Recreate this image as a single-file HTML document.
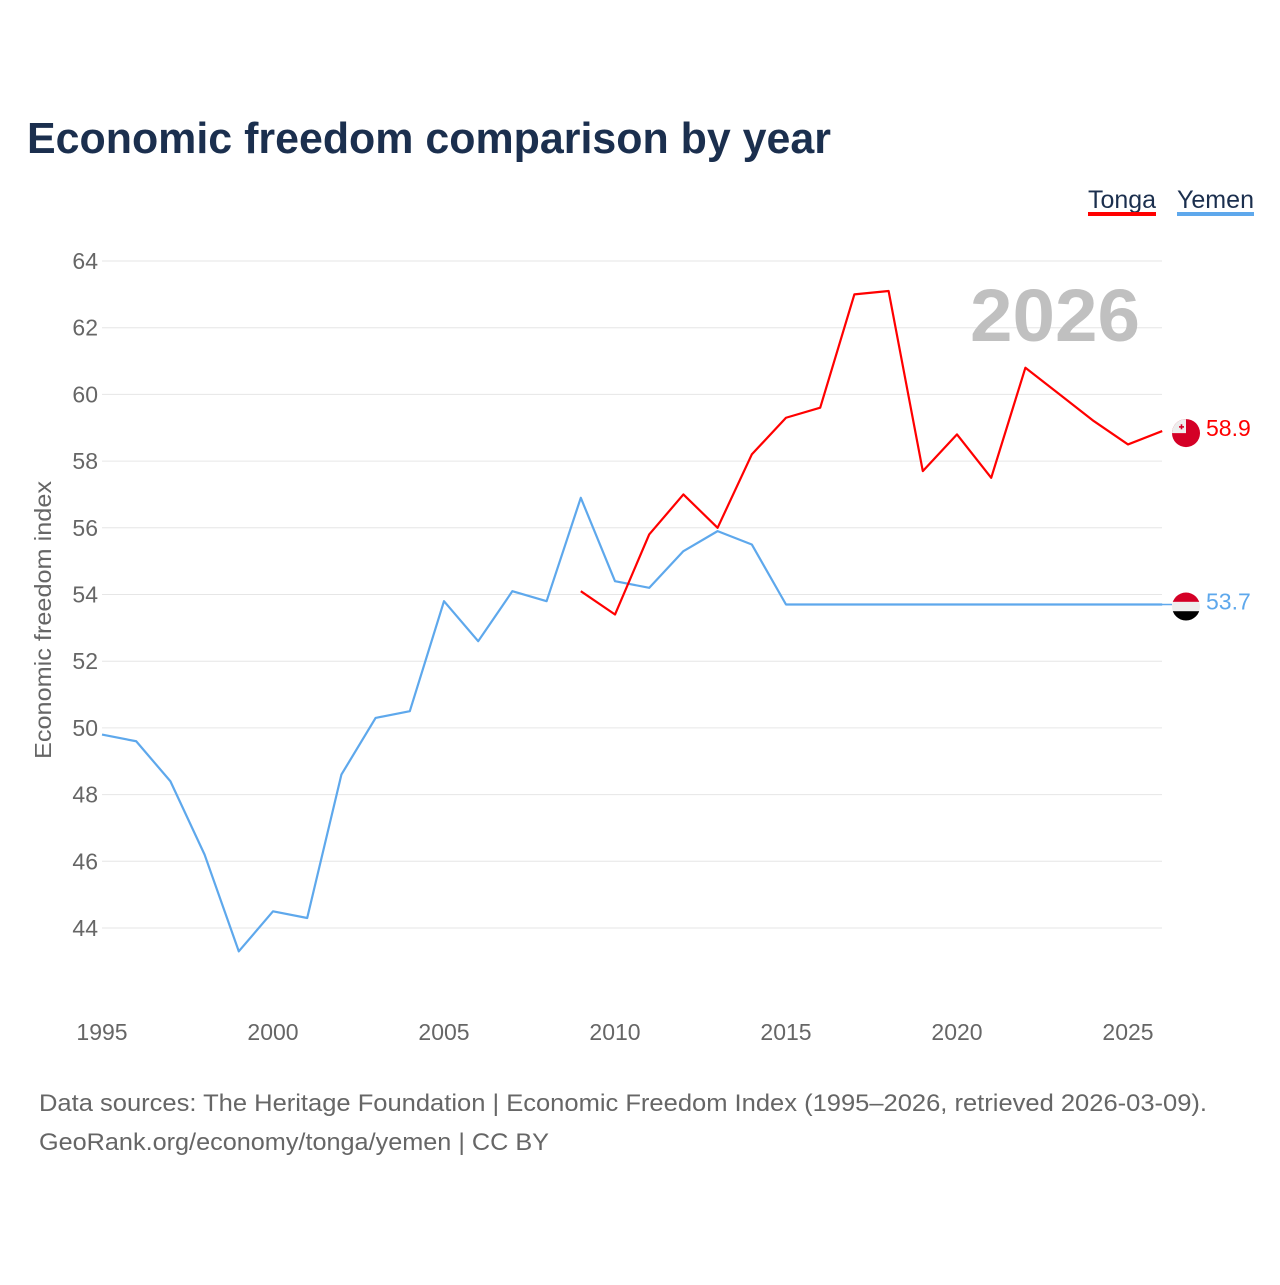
<!DOCTYPE html>
<html><head><meta charset="utf-8"><style>
body{margin:0;background:#fff;font-family:"Liberation Sans",sans-serif;}
</style></head><body>
<svg id="chart" width="1280" height="1280" viewBox="0 0 1280 1280" xmlns="http://www.w3.org/2000/svg">
<text x="27" y="153" font-size="44" font-weight="bold" fill="#1b2f4e" textLength="804" lengthAdjust="spacingAndGlyphs">Economic freedom comparison by year</text>
<g><text x="1088" y="208" font-size="25" fill="#1b2f4e" textLength="68" lengthAdjust="spacingAndGlyphs">Tonga</text><rect x="1088" y="212" width="68" height="4" fill="#ff0000"/></g>
<g><text x="1177" y="208" font-size="25" fill="#1b2f4e" textLength="77" lengthAdjust="spacingAndGlyphs">Yemen</text><rect x="1177" y="212" width="77" height="4" fill="#5ea8ec"/></g>
<g id="grid"></g><g id="yticks"></g><g id="xticks"></g>
<text x="1140" y="341" text-anchor="end" font-size="74" font-weight="bold" fill="#c0c0c0" textLength="170" lengthAdjust="spacingAndGlyphs">2026</text>
<text transform="translate(51,620) rotate(-90)" text-anchor="middle" font-size="23" fill="#666" textLength="278" lengthAdjust="spacingAndGlyphs">Economic freedom index</text>
<g id="series"></g>
<text x="39" y="1111" font-size="24" fill="#666" textLength="1168" lengthAdjust="spacingAndGlyphs">Data sources: The Heritage Foundation | Economic Freedom Index (1995–2026, retrieved 2026-03-09).</text>
<text x="39" y="1150" font-size="24" fill="#666" textLength="510" lengthAdjust="spacingAndGlyphs">GeoRank.org/economy/tonga/yemen | CC BY</text>
</svg>
<script>
const years=[1995,1996,1997,1998,1999,2000,2001,2002,2003,2004,2005,2006,2007,2008,2009,2010,2011,2012,2013,2014,2015,2016,2017,2018,2019,2020,2021,2022,2023,2024,2025,2026];
const yemen=[49.8,49.6,48.4,46.2,43.3,44.5,44.3,48.6,50.3,50.5,53.8,52.6,54.1,53.8,56.9,54.4,54.2,55.3,55.9,55.5,53.7,53.7,53.7,53.7,53.7,53.7,53.7,53.7,53.7,53.7,53.7,53.7];
const tonga=[null,null,null,null,null,null,null,null,null,null,null,null,null,null,54.1,53.4,55.8,57.0,56.0,58.2,59.3,59.6,63.0,63.1,57.7,58.8,57.5,60.8,60.0,59.2,58.5,58.9];
const yTicks=[44,46,48,50,52,54,56,58,60,62,64];
const xTicks=[1995,2000,2005,2010,2015,2020,2025];
const NS="http://www.w3.org/2000/svg";
const X=y=>102+(y-1995)*(1128-102)/30;
const Y=v=>928-(v-44)*(928-261)/20;
function mk(t,a,p){const e=document.createElementNS(NS,t);for(const k in a)e.setAttribute(k,a[k]);p.appendChild(e);return e;}
const grid=document.getElementById('grid'),yt=document.getElementById('yticks'),xt=document.getElementById('xticks'),ser=document.getElementById('series');
yTicks.forEach(v=>{
 const l=mk('line',{x1:102,x2:1162,y1:Y(v),y2:Y(v),stroke:'#e6e6e6','stroke-width':1},grid);
 
 
 const t=mk('text',{x:98,y:Y(v)+8,'text-anchor':'end','font-size':23,fill:'#666'},yt);t.textContent=v;
 
 
});
xTicks.forEach(v=>{
 const t=mk('text',{x:X(v),y:1040,'text-anchor':'middle','font-size':23,fill:'#666'},xt);t.textContent=v;
 
 
});
function line(vals,col,name){
 let d='';vals.forEach((v,i)=>{if(v==null)return;d+=(d?'L':'M')+X(years[i])+','+Y(v);});
 const p=mk('path',{d:d,fill:'none',stroke:col,'stroke-width':2.2,'stroke-linejoin':'round'},ser);
 
 
}
line(yemen,'#5ea8ec','yemen-line');
line(tonga,'#ff0000','tonga-line');
const lt=tonga[tonga.length-1],ly=yemen[yemen.length-1];
mk('line',{x1:1162,x2:1172,y1:Y(ly),y2:Y(ly),stroke:'#5ea8ec','stroke-width':1.5},ser);
// Tonga flag
const tf=mk('g',{},ser);


mk('circle',{cx:1186,cy:Y(lt)+2,r:14,fill:'#d40026'},tf);
mk('path',{d:`M1172,${Y(lt)+2} A14,14 0 0 1 1186,${Y(lt)-12} L1186,${Y(lt)+2} Z`,fill:'#eee'},tf);
mk('rect',{x:1179,y:Y(lt)-5,width:5,height:1.6,fill:'#d40026'},tf);
mk('rect',{x:1180.7,y:Y(lt)-6.8,width:1.6,height:5,fill:'#d40026'},tf);
const tl=mk('text',{x:1206,y:Y(lt)+5,'font-size':23,fill:'#ff0000'},ser);tl.textContent=lt.toFixed(1);


// Yemen flag
const yf=mk('g',{},ser);


const cy=Y(ly)+2;
mk('clipPath',{id:'yc'},yf);
mk('circle',{cx:1186,cy:cy,r:14},document.getElementById('yc'));
const gg=mk('g',{'clip-path':'url(#yc)'},yf);
mk('rect',{x:1172,y:cy-14,width:28,height:9.4,fill:'#d40026'},gg);
mk('rect',{x:1172,y:cy-4.6,width:28,height:9.4,fill:'#eee'},gg);
mk('rect',{x:1172,y:cy+4.7,width:28,height:9.4,fill:'#000'},gg);
const yl=mk('text',{x:1206,y:Y(ly)+5,'font-size':23,fill:'#5ea8ec'},ser);yl.textContent=ly.toFixed(1);


</script>
</body></html>
